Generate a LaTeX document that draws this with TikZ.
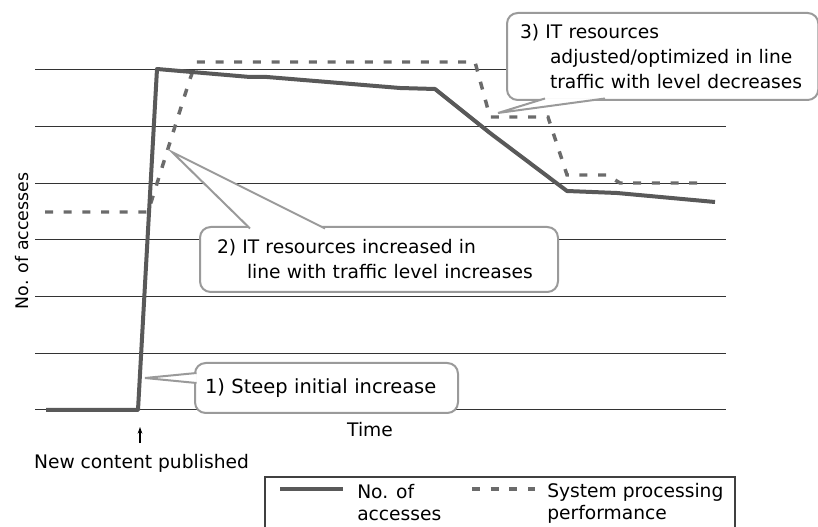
\documentclass[tikz,border=0pt]{standalone}
\usepackage{fontspec}
\setmainfont{DejaVu Sans}
\usetikzlibrary{calc,arrows.meta}
\definecolor{linegray}{HTML}{595959}
\definecolor{dashgray}{HTML}{6B6B6B}
\definecolor{framegray}{HTML}{9A9A9A}
\tikzset{
  gridline/.style={draw=black!80, line width=0.75pt},
  accesses/.style={draw=linegray, line width=3pt, line join=round},
  capacity/.style={draw=dashgray, line width=2.6pt, dash pattern=on 6pt off 8pt},
  balloon/.style={draw=framegray, fill=white, line width=1.5pt, rounded corners=8pt,
    anchor=north west, outer sep=0pt, align=left,
    font=\fontsize{14}{18.75}\selectfont},
  pointer/.style={draw=framegray, fill=white, line width=1.5pt},
  lbl/.style={font=\fontsize{14}{16.5}\selectfont, inner sep=0pt},
}
\begin{document}
\begin{tikzpicture}[x=0.75pt,y=-0.75pt]
  \useasboundingbox (0,0) rectangle (818,527);
  \clip (0,0) rectangle (818,527);
  % horizontal rules
  \foreach \k in {0,...,6}
    \draw[gridline] (35,410-56.67*\k) -- (726,410-56.67*\k);
  % curves
  \draw[capacity] (45,212) -- (148,212) -- (189,82) -- (196,62) -- (475,62)
    -- (490,117) -- (548,117) -- (567,175) -- (607,175) -- (620,183) -- (705,183);
  \draw[accesses] (46,410) -- (138,410) -- (157,69) -- (250,77) -- (267,77)
    -- (400,88) -- (435,89) -- (490,133) -- (567,191) -- (617,193) -- (715,202);
  % callouts
  \coordinate (t1) at (145,378);
  \coordinate (t2) at (172,152);
  \coordinate (t3) at (498,113);
  \node[balloon, text width=182.25pt, inner xsep=7.5pt, minimum height=37.5pt,
    font=\fontsize{14.6}{18.75}\selectfont] (c1) at (195,363)
    {1) Steep initial increase};
  \node[balloon, text width=243pt, inner xsep=12.75pt, minimum height=48.75pt] (c2) at (200,227)
    {2) IT resources increased in\\\hspace*{22.5pt}line with traffic level increases};
  \node[balloon, text width=214pt, inner xsep=9.75pt, minimum height=65.25pt] (c3) at (507,13)
    {3) IT resources\\\hspace*{22.5pt}adjusted/optimized in line\\\hspace*{22.5pt}traffic with level decreases};
  \filldraw[pointer] ($(c1.north west)+(1.5,10)$) -- (t1) -- ($(c1.north west)+(1.5,20)$);
  \filldraw[pointer] ($(c2.north west)+(50,1.5)$) -- (t2) -- ($(c2.north west)+(125,1.5)$);
  \filldraw[pointer] ($(c3.south west)+(38,-1.5)$) -- (t3) -- ($(c3.south west)+(98,-1.5)$);
  % axes
  \node[lbl, rotate=90, font=\fontsize{13}{15}\selectfont] (ylab) at (22,241) {No. of accesses};
  \node[lbl] (time) at (370,430) {Time};
  \node[lbl] (pub) at (141.5,463) {New content published};
  \coordinate (pubfoot) at (140,443);
  \coordinate (pubhead) at (140,427);
  \draw[line width=0.8pt, -{Stealth[length=5pt,width=3.5pt]}] (pubfoot) -- (pubhead);
  % legend
  \node[draw=black!75, line width=0.8pt, anchor=north west, outer sep=0pt,
    minimum width=352.5pt, minimum height=45pt] (legend) at (265,477) {};
  \draw[accesses] ($(legend.north west)+(15,12)$) -- ++(63,0);
  \node[lbl, anchor=north west, align=left] (lacc) at (357,484) {No. of\\accesses};
  \draw[capacity] ($(legend.north west)+(207,12)$) -- ++(63,0);
  \node[lbl, anchor=north west, align=left] (lcap) at (547,483) {System processing\\performance};
\end{tikzpicture}
\end{document}
